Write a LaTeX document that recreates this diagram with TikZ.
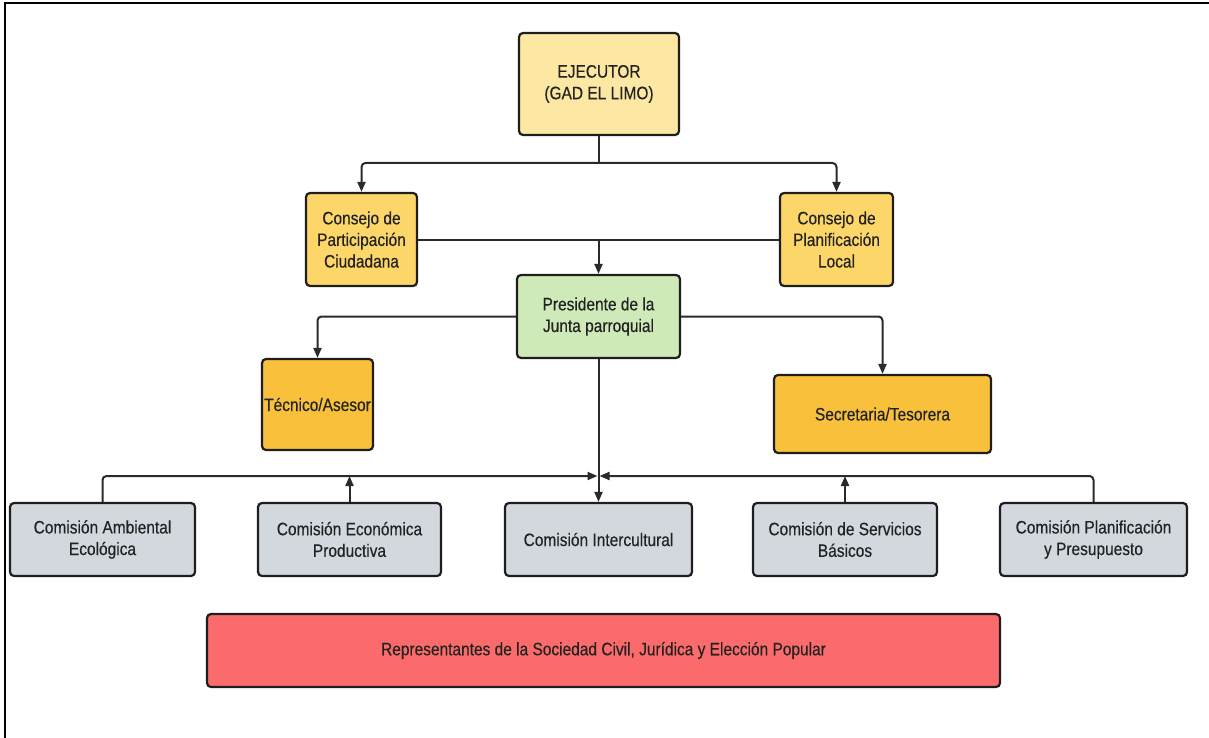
\documentclass[tikz,border=0pt]{standalone}
\usepackage{fontspec}
\setmainfont[FakeStretch=0.86,FakeBold=0.35]{Liberation Sans}
\usetikzlibrary{arrows.meta}
\definecolor{ejecfill}{HTML}{FCE8A2}
\definecolor{consfill}{HTML}{FDD66A}
\definecolor{presfill}{HTML}{CEEAB8}
\definecolor{tecfill}{HTML}{F9C13B}
\definecolor{comifill}{HTML}{D3D8DF}
\definecolor{reprfill}{HTML}{FC6B6B}
\definecolor{boxedge}{HTML}{1E1E1E}
\definecolor{linkcol}{HTML}{2A2A2A}
\definecolor{txtcol}{HTML}{222222}
\begin{document}
\begin{tikzpicture}[x=1pt,y=-1pt,
  box/.style={draw=boxedge, line width=2.2pt, rounded corners=4pt, inner sep=2pt,
    align=center, text=txtcol, font=\fontsize{18}{21.6}\selectfont},
  conn/.style={draw=linkcol, line width=2pt, rounded corners=4pt},
  arr/.style={conn, -{Triangle[length=10pt,width=8pt]}}]
\useasboundingbox (0,0) rectangle (1209,738);
% frame
\draw[line width=2.5pt, black] (5,738) -- (5,3) -- (1209,3);
% boxes
\node[box, fill=ejecfill, minimum width=160pt, minimum height=102pt] (ejec) at (599,84) {EJECUTOR\\(GAD EL LIMO)};
\node[box, fill=consfill, minimum width=111pt, minimum height=93pt] (consP) at (361.5,239.5) {Consejo de\\Participación\\Ciudadana};
\node[box, fill=consfill, minimum width=113pt, minimum height=93pt] (consL) at (836.5,239.5) {Consejo de\\Planificación\\Local};
\node[box, fill=presfill, minimum width=163pt, minimum height=83pt] (pres) at (598.5,316.5) {Presidente de la\\Junta parroquial};
\node[box, fill=tecfill, minimum width=111pt, minimum height=91pt, inner sep=0pt] (tec) at (317.5,404.5) {Técnico/Asesor};
\node[box, fill=tecfill, minimum width=217pt, minimum height=78pt] (sec) at (882.5,414) {Secretaria/Tesorera};
\node[box, fill=comifill, minimum width=185pt, minimum height=73pt] (amb) at (102.5,539.5) {Comisión Ambiental\\Ecológica};
\node[box, fill=comifill, minimum width=183pt, minimum height=73pt] (eco) at (349.5,539.5) {Comisión Económica\\Productiva};
\node[box, fill=comifill, minimum width=187pt, minimum height=73pt] (int) at (598.5,539.5) {Comisión Intercultural};
\node[box, fill=comifill, minimum width=184pt, minimum height=73pt] (ser) at (845,539.5) {Comisión de Servicios\\Básicos};
\node[box, fill=comifill, minimum width=187pt, minimum height=73pt] (pla) at (1093.5,539.5) {Comisión Planificación\\y Presupuesto};
\node[box, fill=reprfill, minimum width=793pt, minimum height=73pt] (repr) at (603.5,650.5) {Representantes de la Sociedad Civil, Jurídica y Elección Popular};
% junctions
\coordinate (j1) at (ejec.south |- 0,163);
\coordinate (j2) at (pres.north |- consP.east);
\coordinate (j3) at (pres.south |- 0,476);
% connectors
\draw[conn] (ejec.south) -- (j1);
\draw[arr] (j1) -| (consP.north);
\draw[arr] (j1) -| (consL.north);
\draw[conn] (consP.east) -- (consL.west);
\draw[arr] (j2) -- (pres.north);
\draw[arr] (pres.west) -| (tec.north);
\draw[arr] (pres.east) -| (sec.north);
\draw[arr] (pres.south) -- (int.north);
\draw[arr, shorten >=1pt] (amb.north) |- (j3);
\draw[arr, shorten >=1pt] (pla.north) |- (j3);
\draw[arr] (eco.north) -- (eco.north |- j3);
\draw[arr] (ser.north) -- (ser.north |- j3);
\end{tikzpicture}
\end{document}
